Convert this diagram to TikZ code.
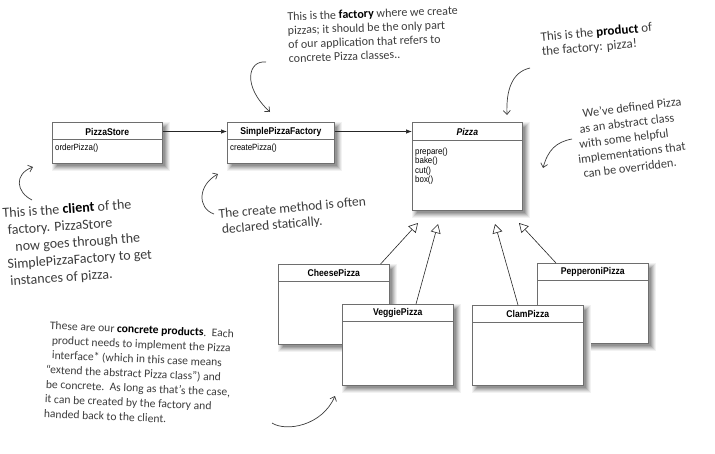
\documentclass[tikz,border=0pt]{standalone}
\usepackage{fontspec}
\setmainfont{Carlito}
\newfontfamily\umlfont[FakeStretch=0.88]{Liberation Sans}
\usetikzlibrary{arrows.meta,calc}
\definecolor{ink}{HTML}{3C3C3C}
\definecolor{boxline}{HTML}{6E6E6E}
\definecolor{sh1}{HTML}{F2F2F2}
\definecolor{sh2}{HTML}{E2E2E2}
\definecolor{sh3}{HTML}{CFCFCF}
\definecolor{sh4}{HTML}{BBBBBB}
\definecolor{sh5}{HTML}{A6A6A6}
\definecolor{sh6}{HTML}{939393}
% shadow behind a box given by its top-left corner and size
\newcommand\umlshadow[4]{%
  \fill[sh1] (#1+0,#2+0) rectangle (#1+#3+8,#2+#4+8);
  \fill[sh2] (#1+1,#2+1) rectangle (#1+#3+7,#2+#4+7);
  \fill[sh3] (#1+2,#2+2) rectangle (#1+#3+6,#2+#4+6);
  \fill[sh4] (#1+3,#2+3) rectangle (#1+#3+5,#2+#4+5);
  \fill[sh5] (#1+4,#2+4) rectangle (#1+#3+4,#2+#4+4);
  \fill[sh6] (#1+5,#2+5) rectangle (#1+#3+3,#2+#4+3);}
\begin{document}
\begin{tikzpicture}[x=1pt,y=-1pt,
  cls/.style={draw=boxline, line width=0.6pt, fill=white, inner sep=0pt, anchor=north west},
  sep/.style={draw=boxline, line width=0.6pt},
  hdr/.style={font=\umlfont\bfseries\fontsize{9.8}{10}\selectfont, inner sep=0pt},
  mth/.style={font=\umlfont\fontsize{9}{10}\selectfont, inner sep=0pt, anchor=west},
  assoc/.style={draw=black!85, line width=0.7pt, -{Latex[length=6pt,width=4.5pt]}},
  gen/.style={draw=black!85, line width=0.6pt, -{Triangle[open, length=9pt, width=10pt, fill=white]}},
  note/.style={text=ink, align=left, inner sep=0pt, anchor=north west},
  notearrow/.style={draw=ink, line width=0.7pt, -{Straight Barb[length=4pt, width=7pt]}}]
\useasboundingbox (0,0) rectangle (715,453);

% ---------- classes (each shadow first, then its box) ----------
\umlshadow{52}{122}{110}{41}
\node[cls, minimum width=110pt, minimum height=41pt] (store) at (52,122) {};
\draw[sep] ($(store.north west)+(0,17)$) -- ($(store.north east)+(0,17)$);
\node[hdr] (storeT) at ($(store.north)+(0,9.5)$) {PizzaStore};
\node[mth] (storeM) at ($(store.north west)+(3,26)$) {orderPizza()};

\umlshadow{227}{122}{107}{41}
\node[cls, minimum width=107pt, minimum height=41pt] (factory) at (227,122) {};
\draw[sep] ($(factory.north west)+(0,17)$) -- ($(factory.north east)+(0,17)$);
\node[hdr] (factoryT) at ($(factory.north)+(0,9.5)$) {SimplePizzaFactory};
\node[mth] (factoryM) at ($(factory.north west)+(3,26)$) {createPizza()};

\umlshadow{412}{122}{110}{88}
\node[cls, minimum width=110pt, minimum height=88pt] (pizza) at (412,122) {};
\draw[sep] ($(pizza.north west)+(0,18)$) -- ($(pizza.north east)+(0,18)$);
\node[hdr, font=\umlfont\bfseries\itshape\fontsize{9.8}{10}\selectfont] (pizzaT) at ($(pizza.north)+(0,9.5)$) {Pizza};
\node[mth] (pm1) at ($(pizza.north west)+(3,30)$) {prepare()};
\node[mth] (pm2) at ($(pizza.north west)+(3,39.5)$) {bake()};
\node[mth] (pm3) at ($(pizza.north west)+(3,49)$) {cut()};
\node[mth] (pm4) at ($(pizza.north west)+(3,58.5)$) {box()};

\umlshadow{278}{264}{111}{80}
\node[cls, minimum width=111pt, minimum height=80pt] (cheese) at (278,264) {};
\draw[sep] ($(cheese.north west)+(0,17)$) -- ($(cheese.north east)+(0,17)$);
\node[hdr] (cheeseT) at ($(cheese.north)+(0,8.5)$) {CheesePizza};

\umlshadow{342}{304}{111}{81}
\node[cls, minimum width=111pt, minimum height=81pt] (veggie) at (342,304) {};
\draw[sep] ($(veggie.north west)+(0,17)$) -- ($(veggie.north east)+(0,17)$);
\node[hdr] (veggieT) at ($(veggie.north)+(0,8.5)$) {VeggiePizza};

\umlshadow{537}{263}{111}{80}
\node[cls, minimum width=111pt, minimum height=80pt] (pep) at (537,263) {};
\draw[sep] ($(pep.north west)+(0,17)$) -- ($(pep.north east)+(0,17)$);
\node[hdr] (pepT) at ($(pep.north)+(0,8.5)$) {PepperoniPizza};

\umlshadow{472}{305}{111}{80}
\node[cls, minimum width=111pt, minimum height=80pt] (clam) at (472,305) {};
\draw[sep] ($(clam.north west)+(0,17)$) -- ($(clam.north east)+(0,17)$);
\node[hdr] (clamT) at ($(clam.north)+(0,8.5)$) {ClamPizza};

% ---------- associations ----------
\draw[assoc] (store.east |- storeT) -- (factory.west |- storeT);
\draw[assoc] (factory.east |- factoryT) -- (pizza.west |- factoryT);

% ---------- generalizations ----------
\coordinate (g1) at (418,223);
\coordinate (g2) at (438,224);
\coordinate (g3) at (495,224);
\coordinate (g4) at (519,223);
\draw[gen] ($(cheese.north east)+(-9,0)$) -- (g1);
\draw[gen] ($(veggie.north west)+(74,0)$) -- (g2);
\draw[gen] ($(clam.north west)+(46,0)$) -- (g3);
\draw[gen] ($(pep.north west)+(19,0)$) -- (g4);

% ---------- notes ----------
\node[note, rotate=2, font=\fontsize{12}{14}\selectfont] (nFactory) at (287,12)
  {This is the \textbf{\color{black}factory} where we create\\pizzas; it should be the only part\\of our application that refers to\\concrete Pizza classes..};
\node[note, rotate=5, font=\fontsize{13}{14.5}\selectfont] (nProduct) at (540,32)
  {This is the \textbf{\color{black}product} of\\the factory: pizza!};
\node[note, rotate=7, font=\fontsize{12.3}{15}\selectfont] (nAbstract) at (572,110)
  {\hspace*{10pt}We’ve defined Pizza\\\hspace*{5pt}as an abstract class\\\hspace*{3pt}with some helpful\\implementations that\\\hspace*{3.5pt}can be overridden.};
\node[note, rotate=4, font=\fontsize{14}{17}\selectfont] (nClient) at (2,208)
  {This is the \textbf{\color{black}client} of the\\\hspace*{4pt}factory. PizzaStore\\\hspace*{10.5pt}now goes through the\\\hspace*{1.5pt}SimplePizzaFactory to get\\\hspace*{3pt}instances of pizza.};
\node[note, rotate=5, font=\fontsize{13.5}{15.5}\selectfont] (nCreate) at (218,209)
  {The create method is often\\\hspace*{2pt}declared statically.};
\node[note, rotate=-2.5, font=\fontsize{11.6}{14.7}\selectfont] (nConcrete) at (47,321)
  {\hspace*{3pt}These are our \textbf{\color{black}concrete products}.\ \ Each\\\hspace*{5.7pt}product needs to implement the Pizza\\\hspace*{6.3pt}interface* (which in this case means\\\hspace*{0.9pt}“extend the abstract Pizza class”) and\\\hspace*{1.6pt}be concrete.\ \ As long as that’s the case,\\\hspace*{1.2pt}it can be created by the factory and\\\hspace*{0.8pt}handed back to the client.};

% ---------- note arrows ----------
\coordinate (a1s) at (266,62);  \coordinate (a1e) at (270,112);
\draw[notearrow] (a1s) .. controls (248,60) and (242,86) .. (a1e);
\coordinate (a2s) at (530,68);  \coordinate (a2e) at (507,115);
\draw[notearrow] (a2s) .. controls (512,72) and (506,90) .. (a2e);
\coordinate (a3s) at (572,139); \coordinate (a3e) at (543,168);
\draw[notearrow] (a3s) .. controls (556,142) and (548,150) .. (a3e);
\coordinate (a4s) at (32,200);  \coordinate (a4e) at (33,167);
\draw[notearrow] (a4s) .. controls (16,192) and (14,174) .. (a4e);
\coordinate (a5s) at (214,214); \coordinate (a5e) at (218,174);
\draw[notearrow] (a5s) .. controls (197,208) and (198,185) .. (a5e);
\coordinate (a6s) at (272,423); \coordinate (a6e) at (335,396);
\draw[notearrow] (a6s) .. controls (286,432) and (322,426) .. (a6e);
\end{tikzpicture}
\end{document}
